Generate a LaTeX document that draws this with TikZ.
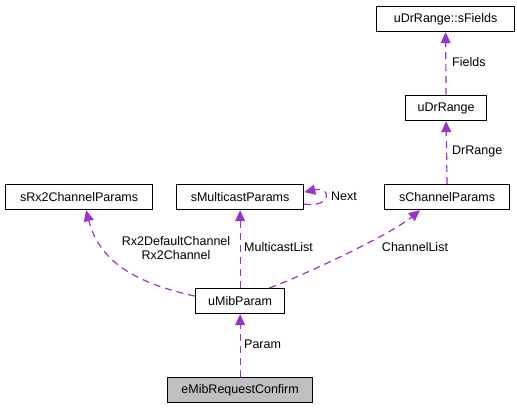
\documentclass[tikz,border=0pt]{standalone}
\usepackage{fontspec}
\setmainfont{Liberation Sans}
\usetikzlibrary{arrows.meta, calc}
\definecolor{cpurple}{HTML}{9A32CD}
\definecolor{cgrey}{HTML}{BFBFBF}
\tikzset{
  every picture/.style={x=1pt, y=-1pt, font=\fontsize{12.5}{14}\selectfont},
  cls/.style={draw=black, fill=#1, line width=1.2pt, minimum height=25pt, inner sep=0pt, anchor=north west},
  cls/.default=white,
  uses/.style={-{Triangle[length=11pt, width=10pt]}, draw=cpurple, line width=1.2pt, dash pattern=on 7pt off 5pt},
  lbl/.style={inner sep=0pt, align=center},
}

\begin{document}
\begin{tikzpicture}
  \useasboundingbox (0,0) rectangle (517,409);
  % classes
  \foreach \n/\x/\y/\w/\t in {fields/376/6/138/uDrRange::sFields, drrange/405/95/81/uDrRange,
      chparams/384/184/125/sChannelParams, mcparams/176/184/127/sMulticastParams,
      rx2params/5/184/147/sRx2ChannelParams, mibparam/195/288/89/uMibParam} {
    \node[cls, minimum width=\w pt] (\n) at (\x,\y) {\t};
  }
  \node[cls=cgrey, minimum width=145pt] (reqconfirm) at (167,377) {eMibRequestConfirm};
  % usage edges
  \draw[uses] (drrange.north) -- (fields.south);
  \node[lbl, anchor=west] (lfields) at (452,62) {Fields};
  \draw[uses] (chparams.north) -- (drrange.south);
  \node[lbl, anchor=west] (ldrrange) at (452,151) {DrRange};
  \draw[uses] ($(mcparams.east)+(0,7)$) .. controls (332,208) and (332,186) .. ($(mcparams.east)+(0,-5)$);
  \node[lbl, anchor=west] (lnext) at (331,196) {Next};
  \draw[uses] ($(mibparam.west)+(0,-5)$) .. controls (140,284) and (100,264) .. ($(rx2params.south)+(7,0)$);
  \node[lbl] (lrx2) at (176,248) {Rx2DefaultChannel\\Rx2Channel};
  \draw[uses] (mibparam.north) -- (mcparams.south);
  \node[lbl, anchor=west] (lmulti) at (244,247) {MulticastList};
  \draw[uses] ($(mibparam.north east)+(-16,0)$) .. controls (300,277) and (390,235) .. ($(chparams.south west)+(36,0)$);
  \node[lbl] (lchan) at (415,247) {ChannelList};
  \draw[uses] (reqconfirm.north) -- (mibparam.south);
  \node[lbl, anchor=west] (lparam) at (244,344) {Param};
\end{tikzpicture}
\end{document}
